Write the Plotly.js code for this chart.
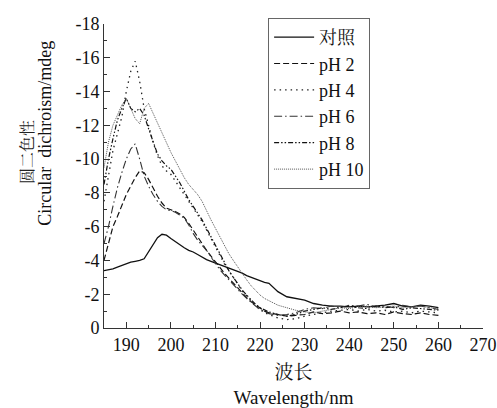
<!DOCTYPE html>
<html>
<head>
<meta charset="utf-8">
<script src="https://cdn.plot.ly/plotly-3.0.1.min.js"></script>
<style>
#chart svg text { font-family: 'Liberation Serif', 'Times New Roman', 'Noto Serif CJK SC', serif !important; }
</style>
</head>
<body style="margin:0">
<div id="chart" style="width:497px;height:408px"></div>
<script>
const wavelength = [185,186,187,188,189,190,191,192,193,194,195,196,197,198,199,200,201,202,203,204,205,206,207,208,209,210,211,212,213,214,215,216,217,218,219,220,221,222,224,226,228,230,232,234,236,238,240,242,244,246,248,250,252,254,256,258,260];

const control = [-3.4,-3.45,-3.5,-3.6,-3.7,-3.8,-3.9,-3.95,-4.0,-4.1,-4.5,-4.9,-5.35,-5.55,-5.5,-5.3,-5.1,-4.9,-4.75,-4.6,-4.5,-4.35,-4.2,-4.05,-3.95,-3.85,-3.75,-3.65,-3.55,-3.45,-3.35,-3.25,-3.1,-3.0,-2.9,-2.8,-2.7,-2.65,-2.15,-1.85,-1.75,-1.65,-1.45,-1.35,-1.3,-1.3,-1.25,-1.3,-1.25,-1.3,-1.35,-1.45,-1.3,-1.25,-1.35,-1.3,-1.2];

const pH2 = [-4.0,-5.0,-6.0,-6.6,-7.3,-7.9,-8.4,-8.9,-9.3,-9.2,-8.8,-8.3,-7.8,-7.4,-7.1,-7.0,-6.9,-6.75,-6.55,-6.2,-5.8,-5.35,-4.95,-4.6,-4.25,-3.9,-3.55,-3.25,-2.95,-2.65,-2.35,-2.05,-1.8,-1.55,-1.35,-1.15,-1.0,-0.9,-0.8,-0.7,-0.75,-0.8,-0.95,-0.85,-0.9,-1.0,-0.9,-0.95,-0.85,-0.9,-0.8,-0.95,-0.85,-0.8,-0.9,-0.8,-0.75];

const pH4 = [-7.5,-9.0,-10.5,-11.5,-12.5,-14.0,-15.2,-15.8,-14.6,-13.0,-12.0,-11.0,-10.2,-9.6,-9.3,-9.1,-8.7,-8.3,-7.9,-7.5,-7.1,-6.7,-6.3,-5.8,-5.3,-4.8,-4.3,-3.8,-3.4,-3.0,-2.6,-2.2,-1.9,-1.6,-1.3,-1.1,-0.9,-0.8,-0.6,-0.5,-0.55,-0.7,-0.8,-0.9,-1.0,-1.05,-1.1,-1.0,-1.1,-1.0,-1.05,-0.95,-1.0,-0.9,-1.0,-0.95,-0.9];

const pH6 = [-5.0,-6.0,-7.2,-8.3,-9.2,-10.0,-10.6,-10.9,-10.0,-9.0,-8.4,-7.9,-7.5,-7.2,-7.0,-6.95,-6.85,-6.7,-6.5,-6.1,-5.6,-5.2,-4.9,-4.6,-4.2,-3.8,-3.45,-3.15,-2.85,-2.6,-2.3,-2.0,-1.75,-1.5,-1.3,-1.1,-0.95,-0.85,-0.75,-0.8,-0.9,-1.1,-1.2,-1.15,-1.3,-1.2,-1.35,-1.3,-1.4,-1.25,-1.3,-1.2,-1.35,-1.25,-1.3,-1.2,-1.1];

const pH8 = [-8.5,-10.0,-11.2,-12.3,-13.0,-13.6,-13.0,-12.8,-13.0,-12.6,-11.8,-11.0,-10.3,-9.9,-9.6,-9.4,-9.0,-8.6,-8.1,-7.6,-7.2,-6.8,-6.4,-5.9,-5.4,-4.9,-4.4,-3.9,-3.4,-3.0,-2.6,-2.25,-1.95,-1.65,-1.4,-1.2,-1.05,-0.95,-0.8,-0.7,-0.8,-1.0,-1.1,-1.2,-1.1,-1.2,-1.3,-1.2,-1.15,-1.3,-1.2,-1.25,-1.1,-1.2,-1.15,-1.1,-1.05];

const pH10 = [-9.5,-11.0,-12.0,-12.6,-13.2,-13.6,-13.0,-12.4,-12.1,-13.0,-13.3,-12.7,-12.2,-11.6,-11.0,-10.4,-9.9,-9.35,-8.9,-8.5,-8.2,-7.9,-7.5,-6.9,-6.4,-5.9,-5.4,-4.9,-4.4,-4.0,-3.6,-3.2,-2.85,-2.5,-2.2,-1.95,-1.75,-1.6,-1.35,-1.2,-1.05,-0.95,-0.9,-1.0,-1.1,-1.2,-1.15,-1.25,-1.3,-1.2,-1.25,-1.3,-1.2,-1.25,-1.3,-1.2,-1.15];

const seriesNames = ['对照','pH 2','pH 4','pH 6','pH 8','pH 10'];
const xTicks = [190,200,210,220,230,240,250,260,270];
const yTicks = [0,-2,-4,-6,-8,-10,-12,-14,-16,-18];

const SERIF = 'Liberation Serif';
const CJK = 'Noto Serif CJK SC';

const styles = [
  {color:'#111', width:1.3, dash:'solid'},
  {color:'#111', width:1.2, dash:'6px,3px'},
  {color:'#222', width:1.3, dash:'1.5px,4px'},
  {color:'#333', width:1.1, dash:'8px,3px,1.5px,3px'},
  {color:'#111', width:1.2, dash:'5px,2px,1.5px,2px,1.5px,2px'},
  {color:'#555', width:1.0, dash:'1px,1px'}
];
const ys = [control,pH2,pH4,pH6,pH8,pH10];
const traces = ys.map((y,i)=>({
  x: wavelength, y: y, type:'scatter', mode:'lines', name: seriesNames[i],
  line: Object.assign({}, styles[i], {shape:'linear'})
}));

const layout = {
  width:497, height:408,
  margin:{l:104, r:14, t:24, b:80},
  paper_bgcolor:'#fff', plot_bgcolor:'#fff',
  font:{family:SERIF, size:18, color:'#111'},
  showlegend:true,
  legend:{x:0.433, y:1.02, xanchor:'left', yanchor:'top',
    bordercolor:'#666', borderwidth:1, bgcolor:'rgba(255,255,255,0)',
    font:{family:SERIF, size:18, color:'#111'}, itemwidth:40, tracegroupgap:0},
  xaxis:{range:[185,270], tickvals:xTicks, ticktext:xTicks.map(String),
    ticks:'inside', ticklen:6, tickwidth:1, tickcolor:'#333',
    minor:{dtick:5, tick0:185, ticks:'inside', ticklen:3, tickcolor:'#333'},
    showline:true, linecolor:'#333', linewidth:1, showgrid:false, zeroline:false,
    tickfont:{family:SERIF, size:18, color:'#111'},
    title:{text:'波长<br>Wavelength/nm', font:{family:SERIF, size:19, color:'#111'}, standoff:22}},
  yaxis:{range:[0,-18], tickvals:yTicks, ticktext:yTicks.map(String),
    ticks:'inside', ticklen:6, tickwidth:1, tickcolor:'#333',
    minor:{dtick:1, ticks:'inside', ticklen:3, tickcolor:'#333'},
    showline:true, linecolor:'#333', linewidth:1, showgrid:false, zeroline:false,
    tickfont:{family:SERIF, size:18, color:'#111'}},
  annotations:[
    {text:'圆二色性', xref:'paper', yref:'paper', x:-0.205, y:0.58, xanchor:'center', yanchor:'middle',
     textangle:-90, showarrow:false, font:{family:CJK, size:16, color:'#222'}},
    {text:'Circular  dichroism/mdeg', xref:'paper', yref:'paper', x:-0.155, y:0.64, xanchor:'center', yanchor:'middle',
     textangle:-90, showarrow:false, font:{family:SERIF, size:18, color:'#111'}}
  ]
};
Plotly.newPlot('chart', traces, layout, {displayModeBar:false, staticPlot:true});
</script>
</body>
</html>
